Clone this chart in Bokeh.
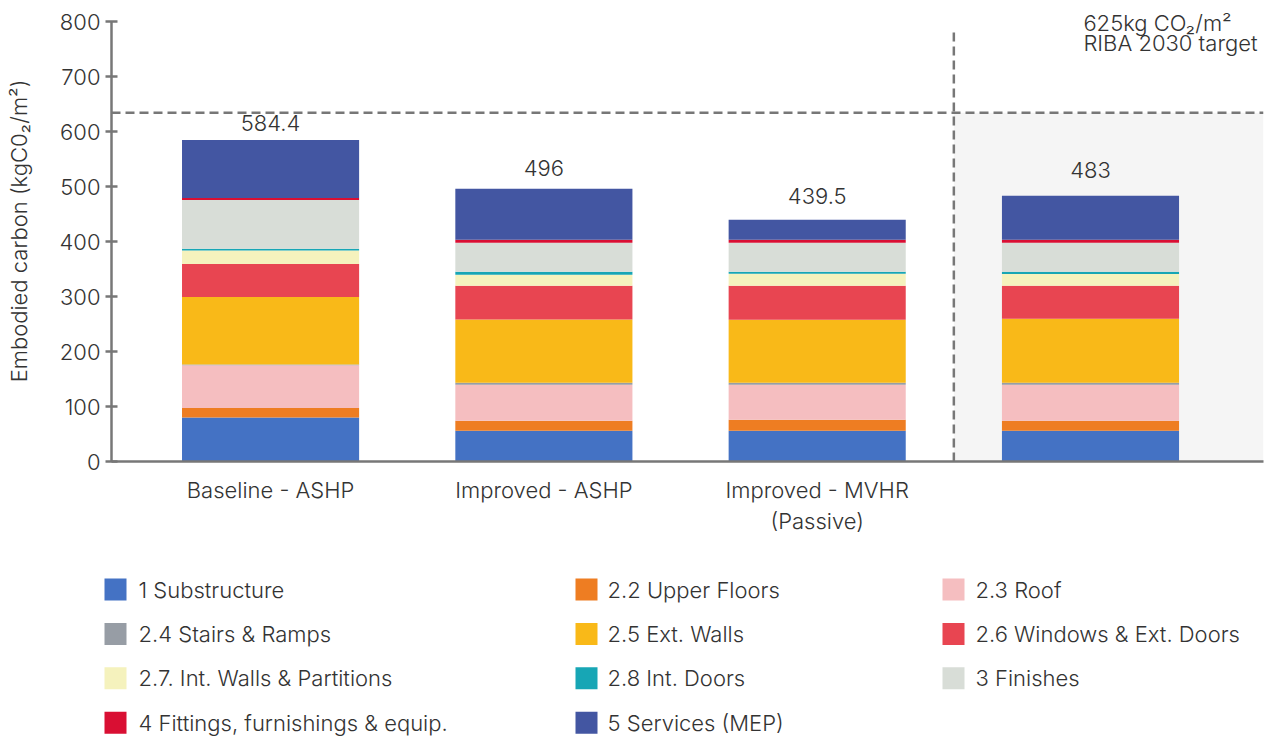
from bokeh.plotting import figure
from bokeh.models import Range1d, BoxAnnotation, Span, Label, FixedTicker, ColumnDataSource
from bokeh.core.properties import value
from bokeh.embed import file_html
from bokeh.resources import INLINE

# ---------------- data ----------------
categories = ["Baseline - ASHP", "Improved - ASHP", "Improved - MVHR\n(Passive)", ""]
elements = ["1 Substructure", "2.2 Upper Floors", "2.3 Roof",
            "2.4 Stairs & Ramps", "2.5 Ext. Walls", "2.6 Windows & Ext. Doors",
            "2.7. Int. Walls & Partitions", "2.8 Int. Doors", "3 Finishes",
            "4 Fittings, furnishings & equip.", "5 Services (MEP)"]
colors = ["#4472C4", "#EE7D22", "#F5BEC0", "#979DA5", "#F9B918", "#E84551",
          "#F5F2BD", "#17A6B5", "#D8DDD7", "#D90F33", "#4356A2"]

substructure = [79.8, 56.0, 55.8, 55.7]
upper_floors = [17.7, 18.2, 20.0, 18.2]
roof = [77.5, 65.5, 63.7, 65.5]
stairs = [1.5, 3.7, 3.7, 3.7]
ext_walls = [122.8, 115.0, 114.5, 116.3]
windows = [60.0, 61.3, 61.8, 60.0]
int_walls = [24.2, 20.0, 21.7, 21.7]
int_doors = [3.5, 5.4, 3.7, 3.7]
finishes = [88.6, 52.8, 52.8, 52.8]
fittings = [3.4, 5.5, 5.5, 5.5]
services = [105.4, 92.6, 36.3, 79.9]
total_labels = ["584.4", "496", "439.5", "483"]

target_line = 634          # dashed RIBA 2030 target line as drawn
target_text = ["625kg CO\u2082/m\u00b2", "RIBA 2030 target"]

FONT = "Inter Light, Inter"
FS = "22px"
TXT = "#333333"
AXIS = "#777777"

series = [substructure, upper_floors, roof, stairs, ext_walls, windows,
          int_walls, int_doors, finishes, fittings, services]
keys = ["s%d" % i for i in range(len(series))]
xs = list(range(len(categories)))
data = {"x": xs}
for k, s in zip(keys, series):
    data[k] = s
src = ColumnDataSource(data)
totals = [sum(s[i] for s in series) for i in range(len(xs))]

# ---------------- chart ----------------
W = 1276
Y_TOP = 838.2   # frame reaches the top of the canvas; axis itself stops at 800
p = figure(width=W, height=548, x_range=Range1d(-0.582, 3.633), y_range=Range1d(0, Y_TOP),
           output_backend="svg", toolbar_location=None,
           min_border_left=111, min_border_right=13, min_border_top=0, min_border_bottom=87)
p.outline_line_color = None
p.xgrid.visible = False
p.ygrid.visible = False

p.add_layout(BoxAnnotation(left=2.5, bottom=0, top=target_line, fill_color="#F5F5F5",
                           fill_alpha=1.0, line_color=None, level="underlay"))

p.vbar_stack(keys, x="x", width=0.648, color=colors, source=src, line_color=None)

p.add_layout(Span(location=target_line, dimension="width", line_color=AXIS,
                  line_width=2.5, line_dash="9 5"))
p.segment(x0=[2.5], y0=[0], x1=[2.5], y1=[783], line_color=AXIS, line_width=2.5,
          line_dash="9 5")

gaps = [17, 21, 24, 26]
for i in xs:
    p.text(x=[i], y=[totals[i]], text=[total_labels[i]], text_align="center",
           text_baseline="alphabetic", y_offset=-gaps[i], text_font=value(FONT),
           text_font_size=FS, text_color=TXT)

for j, t in enumerate(target_text):
    p.add_layout(Label(x=2.974, y=798 - j * 36.4, text=t, text_font=FONT,
                       text_font_size=FS, text_color=TXT,
                       text_baseline="alphabetic", text_align="left"))

p.yaxis.ticker = FixedTicker(ticks=list(range(0, 801, 100)))
p.yaxis.bounds = (0, 800)
p.yaxis.axis_label = "Embodied carbon (kgC0\u2082/m\u00b2)"
p.yaxis.axis_label_text_font = FONT
p.yaxis.axis_label_text_font_style = "normal"
p.yaxis.axis_label_text_font_size = FS
p.yaxis.axis_label_text_color = TXT
p.yaxis.axis_label_standoff = 24
p.yaxis.major_label_text_font = FONT
p.yaxis.major_label_text_font_size = FS
p.yaxis.major_label_text_color = TXT
p.yaxis.major_label_standoff = 5
p.yaxis.major_tick_in = 6
p.yaxis.major_tick_out = 6
p.yaxis.minor_tick_line_color = None
p.yaxis.axis_line_color = AXIS
p.yaxis.axis_line_width = 2.5
p.yaxis.major_tick_line_color = AXIS
p.yaxis.major_tick_line_width = 2.5

p.xaxis.ticker = FixedTicker(ticks=xs)
p.xaxis.major_label_overrides = {i: c for i, c in zip(xs, categories)}
p.xaxis.major_label_text_font = FONT
p.xaxis.major_label_text_font_size = FS
p.xaxis.major_label_text_color = TXT
p.xaxis.major_label_standoff = 15
p.xaxis.major_tick_in = 0
p.xaxis.major_tick_out = 0
p.xaxis.minor_tick_line_color = None
p.xaxis.axis_line_color = AXIS
p.xaxis.axis_line_width = 2.5

# ---------------- legend (separate root, pixel coordinates) ----------------
LH = 188
lg = figure(width=W, height=LH, x_range=Range1d(0, W), y_range=Range1d(LH, 0),
            output_backend="svg", toolbar_location=None, min_border=0)
lg.outline_line_color = None
lg.axis.visible = False
lg.grid.visible = False

col_sq_left = [104, 575, 942]
col_txt_left = [138, 607, 975]
row0, row_step, sq = 41, 44.4, 22
lx, ly, ltx = [], [], []
for i, name in enumerate(elements):
    r, c = divmod(i, 3)
    lx.append(col_sq_left[c] + sq / 2)
    ltx.append(col_txt_left[c])
    ly.append(row0 + r * row_step)
lg.scatter(x=lx, y=ly, marker="square", size=sq, fill_color=colors, line_color=None)
lg.text(x=ltx, y=ly, text=elements, text_baseline="middle", text_align="left",
        text_font=value(FONT), text_font_size=FS, text_color=TXT)

open("out.html", "w").write(file_html([p, lg], INLINE))
